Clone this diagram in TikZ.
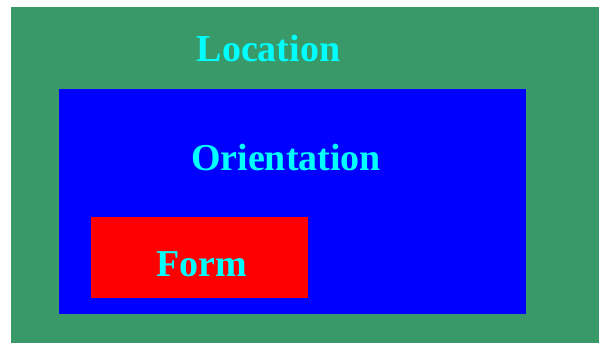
\documentclass[tikz,border=0pt]{standalone}
\usepackage{fontspec}
\setmainfont{Liberation Serif}
\definecolor{locgreen}{RGB}{57,153,104}
\definecolor{txtcyan}{RGB}{0,255,255}
\begin{document}
\begin{tikzpicture}[x=1pt,y=1pt,
  label/.style={text=txtcyan,font=\bfseries\fontsize{38}{41}\selectfont,anchor=base,inner sep=0pt}]
\useasboundingbox (0,0) rectangle (599,343);
\fill[white] (0,0) rectangle (599,343);
\fill[locgreen] (11,0) rectangle (599,336);
\fill[blue] (59,29) rectangle (526,254);
\fill[red] (91,45) rectangle (308,126);
\node[label] (loc) at (268.5,281) {Location};
\node[label] (ori) at (286,172) {Orientation};
\node[label] (form) at (202,67) {Form};
\end{tikzpicture}
\end{document}
